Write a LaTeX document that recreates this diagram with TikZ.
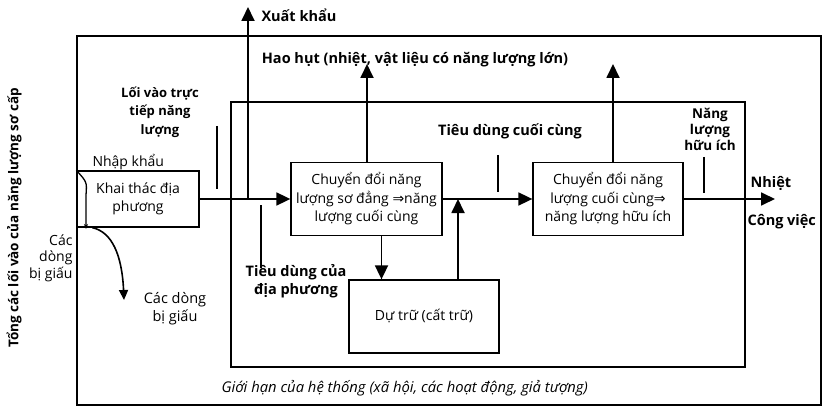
\documentclass[tikz,border=0pt]{standalone}
\usepackage{fontspec}
\setmainfont{Open Sans}
\newfontfamily\symfont{DejaVu Sans}
\usetikzlibrary{arrows.meta}
\newcommand{\imp}{{\symfont ⇒}}
\tikzset{
  procbox/.style={draw,line width=1.3pt,align=center,inner sep=0pt},
  flow/.style={line width=1.8pt,-{Triangle[length=14pt,width=13pt]}},
  pointer/.style={line width=1.2pt},
  boldlbl/.style={font=\bfseries\fontsize{14.5}{18.5}\selectfont,align=center},
  plainlbl/.style={font=\fontsize{14}{18.5}\selectfont,align=center},
}

\begin{document}
\begin{tikzpicture}[x=1pt,y=-1pt]
\useasboundingbox (0,0) rectangle (822,409);
% system frames
\draw[line width=1.3pt] (77,36) rectangle (821,405);
\draw[line width=1.3pt] (231,102) rectangle (745,367);

% boxes
\node[procbox,plainlbl,minimum width=122pt,minimum height=56pt] (khai) at (138,199) {Khai thác địa\\phương};
\node[procbox,plainlbl,minimum width=151pt,minimum height=73pt] (cdoi1) at (366.5,199) {Chuyển đổi năng\\lượng sơ đẳng \imp năng\\lượng cuối cùng};
\node[procbox,plainlbl,minimum width=150pt,minimum height=73pt] (cdoi2) at (608,199) {Chuyển đổi năng\\lượng cuối cùng\imp\\năng lượng hữu ích};
\node[procbox,plainlbl,minimum width=150pt,minimum height=73pt] (dutru) at (424,316.5) {Dự trữ (cất trữ)};

% free ends
\coordinate (xkhau) at (248,7);
\coordinate (hhut1) at (367,64);
\coordinate (hhut2) at (613,64);
\coordinate (ra) at (775,199);
\coordinate (giau) at (124,300);

% flows
\draw[flow] (khai.east) -- (cdoi1.west);
\draw[flow] (khai.east -| xkhau) -- (xkhau);
\draw[flow] (cdoi1.north -| hhut1) -- (hhut1);
\draw[flow] ([xshift=15pt]cdoi1.south) -- ([xshift=15pt]cdoi1.south |- dutru.north);
\draw[flow] ([xshift=34pt]dutru.north) -- ([xshift=34pt]dutru.north |- cdoi1.east);
\draw[flow] (cdoi1.east) -- (cdoi2.west);
\draw[flow] (cdoi2.north -| hhut2) -- (hhut2);
\draw[flow] (cdoi2.east) -- (ra);
% hidden flows
\draw[line width=1.3pt,-{Stealth[length=5pt,width=4pt]}] (khai.north west) .. controls (87,182) .. (86,195) -- (86,229);
\draw[line width=1.6pt,-{Triangle[length=10pt,width=9pt]}] ([xshift=16pt]khai.south west) .. controls (112,232) and (122,255) .. (giau);

% pointers
\draw[pointer] (217,126) -- (217,189);
\draw[pointer] (261,205) -- (261,268);
\draw[pointer] (498,155) -- (498,192);
\draw[pointer] (704,157) -- (704,193);

% labels
\node[boldlbl,font=\bfseries\fontsize{13}{18.5}\selectfont] (lvtt) at (160,112) {Lối vào trực\\tiếp năng\\lượng};
\node[boldlbl] (tddp) at (296,281) {Tiêu dùng của\\địa phương};
\node[boldlbl] (tdcc) at (510,131) {Tiêu dùng cuối cùng};
\node[boldlbl,font=\bfseries\fontsize{13.5}{16}\selectfont] (nlhi) at (710,129) {Năng\\lượng\\hữu ích};
\node[boldlbl] (hhlbl) at (415,60) {Hao hụt (nhiệt, vật liệu có năng lượng lớn)};
\node[boldlbl,anchor=west] (xklbl) at (258,15) {Xuất khẩu};
\node[boldlbl,anchor=west] (nhiet) at (747,183) {Nhiệt};
\node[boldlbl,anchor=west] (congviec) at (744,222) {Công việc};
\node[plainlbl,anchor=west] (nhap) at (89,162) {Nhập khẩu};
\node[plainlbl,font=\fontsize{14.5}{18}\selectfont] (giaulbl) at (175,309) {Các dòng\\bị giấu};
\node[plainlbl,font=\fontsize{14}{16.5}\selectfont,align=right,anchor=east] (giautrai) at (76,258) {Các\\dòng\\bị giấu};
\node[plainlbl,font=\itshape\fontsize{14.8}{16}\selectfont,anchor=west] (gioihan) at (218,388) {Giới hạn của hệ thống (xã hội, các hoạt động, giả tượng)};
\node[boldlbl,font=\bfseries\fontsize{13.5}{15}\selectfont,rotate=90] (tong) at (14,218) {Tổng các lối vào của năng lượng sơ cấp};
\end{tikzpicture}
\end{document}
